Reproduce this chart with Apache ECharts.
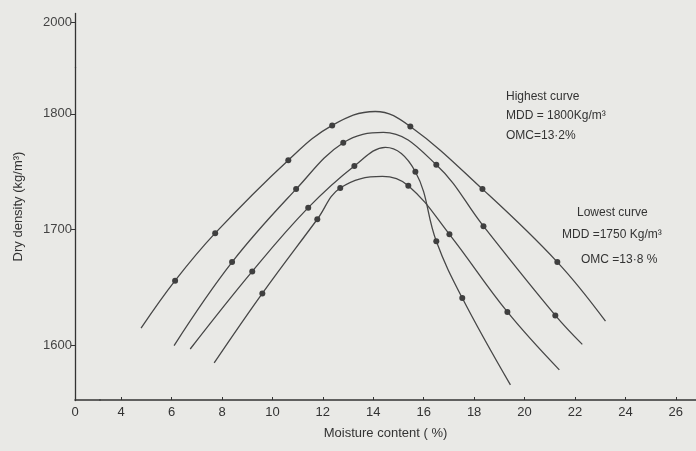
<!DOCTYPE html>
<head>
    <meta charset="utf-8">
    <title>Compaction curves</title>
</head>
<body style="margin:0;background:#e9e9e6">
<div id="main" style="width:696px;height:451px"></div>
<script src="https://cdn.jsdelivr.net/npm/echarts@6.0.0/dist/echarts.min.js"></script>
<script type="text/javascript">
// [moisture %, dry density, 1 = measured point]
var curveA = [[4.79,1615,0],[6.14,1656,1],[7.73,1697,1],[10.63,1760,1],[12.37,1790,1],[14.08,1802,0],[15.47,1789,1],[18.33,1735,1],[21.30,1672,1],[23.21,1621,0]];
var curveB = [[6.10,1600,0],[8.40,1672,1],[10.94,1735,1],[12.81,1775,1],[14.40,1784,0],[16.50,1756,1],[18.37,1703,1],[21.22,1626,1],[22.29,1601,0]];
var curveC = [[6.74,1597,0],[9.20,1664,1],[11.42,1719,1],[13.25,1755,1],[14.48,1771,0],[15.67,1750,1],[16.50,1690,1],[17.53,1641,1],[19.44,1566,0]];
var curveD = [[7.69,1585,0],[9.60,1645,1],[11.78,1709,1],[12.69,1736,1],[14.36,1746,0],[15.39,1738,1],[17.02,1696,1],[19.32,1629,1],[21.38,1579,0]];

var xTicks = [0,4,6,8,10,12,14,16,18,20,22,24,26];
var yTicks = [1600,1700,1800,2000];

var myChart = echarts.init(document.getElementById('main'));

function toData(c) {
    return c.map(function (p) {
        return {value: [p[0], p[1]], symbol: p[2] ? 'circle' : 'none'};
    });
}

function curve(c) {
    return {
        type: 'line',
        data: toData(c),
        smooth: 0.4,
        symbolSize: 6,
        showAllSymbol: true,
        lineStyle: {color: '#474747', width: 1.3},
        itemStyle: {color: '#3f3f3f'},
        silent: true
    };
}

var txt = {fill: '#333', fontFamily: 'Liberation Sans', fontSize: 12};

var option = {
    backgroundColor: '#e9e9e6',
    animation: false,
    grid: {left: 75, right: 0, top: 13, bottom: 51},
    xAxis: {
        type: 'value',
        min: 0,
        max: 26.8,
        breaks: [{start: 1.0, end: 3.17, gap: 0}],
        breakArea: {show: false},
        name: 'Moisture content ( %)',
        nameLocation: 'middle',
        nameGap: 27,
        nameTextStyle: {color: '#333', fontFamily: 'Liberation Sans', fontSize: 13},
        axisLine: {lineStyle: {color: '#333', width: 1.5}},
        axisTick: {inside: true, length: 3, customValues: xTicks, lineStyle: {color: '#333'}},
        axisLabel: {customValues: xTicks, color: '#333', fontFamily: 'Liberation Sans', fontSize: 13, margin: 6},
        splitLine: {show: false}
    },
    yAxis: {
        type: 'value',
        min: 1553,
        max: 2008,
        breaks: [{start: 1840, end: 1961, gap: 0}],
        breakArea: {show: false},
        name: 'Dry density (kg/m³)',
        nameLocation: 'middle',
        nameGap: 50,
        nameTextStyle: {color: '#333', fontFamily: 'Liberation Sans', fontSize: 13},
        axisLine: {show: true, lineStyle: {color: '#333', width: 1.3}},
        axisTick: {show: true, length: 4, customValues: yTicks, lineStyle: {color: '#333'}},
        axisLabel: {
            customValues: yTicks, color: '#444', fontFamily: 'Liberation Sans', fontSize: 13, margin: 3,
            formatter: function (v) { return String(v); }
        },
        splitLine: {show: false}
    },
    graphic: [
        {type: 'text', left: 506, top: 91, style: Object.assign({text: 'Highest curve'}, txt)},
        {type: 'text', left: 506, top: 110, style: Object.assign({text: 'MDD = 1800Kg/m³'}, txt)},
        {type: 'text', left: 506, top: 130, style: Object.assign({text: 'OMC=13·2%'}, txt)},
        {type: 'text', left: 577, top: 207, style: Object.assign({text: 'Lowest curve'}, txt)},
        {type: 'text', left: 562, top: 229, style: Object.assign({text: 'MDD =1750 Kg/m³'}, txt)},
        {type: 'text', left: 581, top: 254, style: Object.assign({text: 'OMC =13·8 %'}, txt)}
    ],
    series: [curve(curveA), curve(curveB), curve(curveC), curve(curveD)]
};
myChart.setOption(option);
</script>
</body>
